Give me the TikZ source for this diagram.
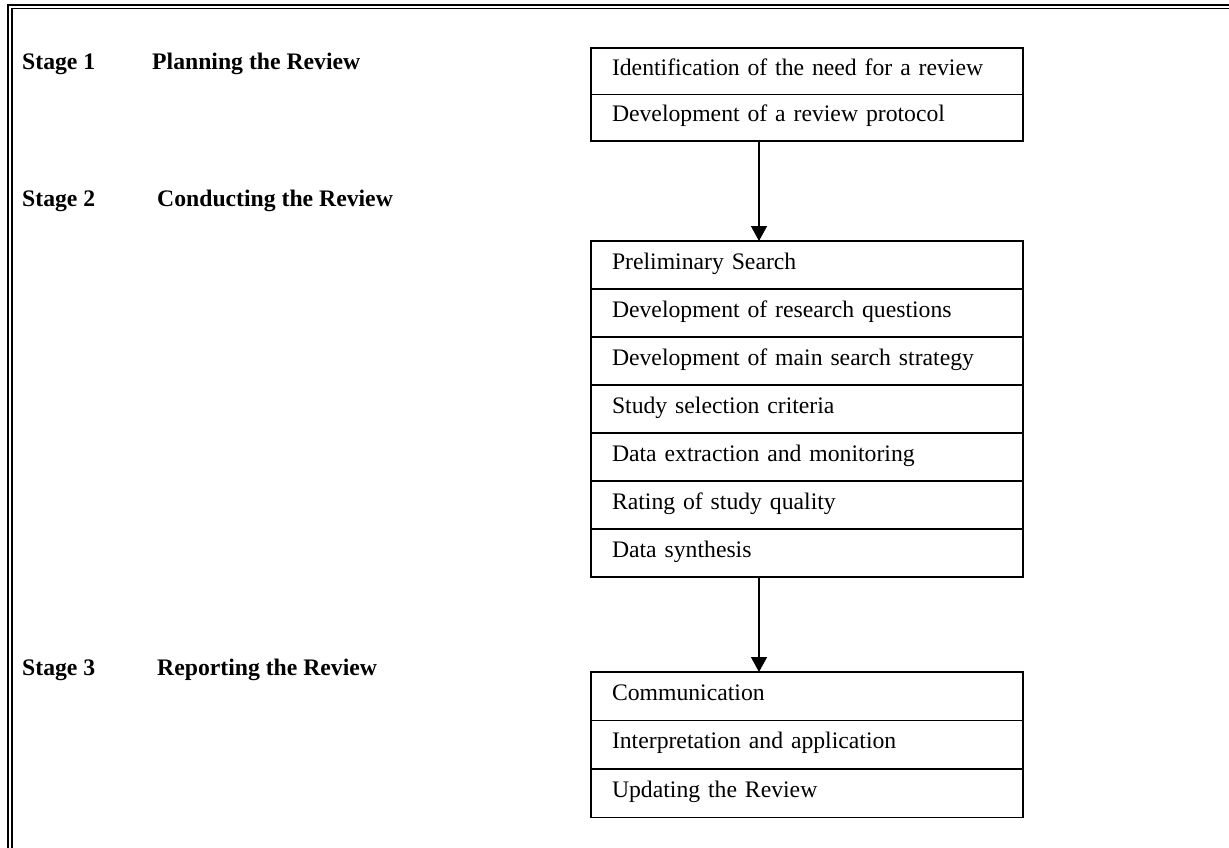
\documentclass[tikz,border=0pt]{standalone}
\usepackage{fontspec}
\setmainfont{Liberation Serif}
\usetikzlibrary{positioning,arrows.meta}

\begin{document}
\begin{tikzpicture}[x=1pt,y=-1pt,
    every node/.style={font=\fontsize{23.7}{28}\selectfont},
    stage/.style={anchor=base west,inner sep=0pt,font=\fontsize{23.7}{28}\selectfont\bfseries},
    row/.style={draw,line width=1.7pt,outer sep=0pt,text width=390pt,inner xsep=21pt,
        align=left,minimum height=48pt,text height=0.85em,text depth=0.05em},
    flow/.style={line width=1.4pt,-{Triangle[width=16pt,length=15pt]}}]
    \useasboundingbox (0,0) rectangle (1229,848);
    \draw[double,double distance=2pt,line width=1.7pt] (10,870) -- (10,6.8) -- (1250,6.8);

    \node[stage] (s1) at (22,70) {Stage 1};
    \node[stage] (s1t) at (152,70) {Planning the Review};
    \node[stage] (s2) at (22,206) {Stage 2};
    \node[stage] (s2t) at (157,206) {Conducting the Review};
    \node[stage] (s3) at (22,675) {Stage 3};
    \node[stage] (s3t) at (157,675) {Reporting the Review};

    \node[row,anchor=north west,minimum height=46.5pt] (need) at (591,48) {Identification of the need for a review};
    \node[row,minimum height=46.5pt,below=0pt of need] (protocol) {Development of a review protocol};

    \node[row,anchor=north west] (prelim) at (591,241) {Preliminary Search};
    \node[row,below=0pt of prelim] (questions) {Development of research questions};
    \node[row,below=0pt of questions] (strategy) {Development of main search strategy};
    \node[row,below=0pt of strategy] (criteria) {Study selection criteria};
    \node[row,below=0pt of criteria] (extraction) {Data extraction and monitoring};
    \node[row,below=0pt of extraction] (quality) {Rating of study quality};
    \node[row,below=0pt of quality] (synthesis) {Data synthesis};

    \node[row,anchor=north west,minimum height=48.5pt] (comm) at (591,672) {Communication};
    \node[row,minimum height=48.5pt,below=0pt of comm] (interp) {Interpretation and application};
    \node[row,minimum height=48.5pt,below=0pt of interp] (update) {Updating the Review};

    \draw[flow] ([xshift=-48pt]protocol.south) -- ([xshift=-48pt]prelim.north);
    \draw[flow] ([xshift=-48pt]synthesis.south) -- ([xshift=-48pt]comm.north);
\end{tikzpicture}
\end{document}
